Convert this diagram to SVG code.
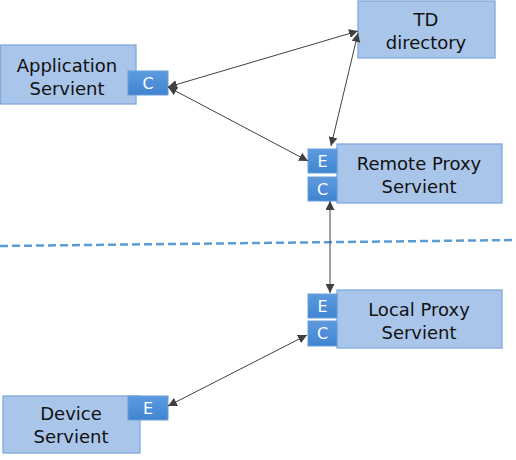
<svg xmlns="http://www.w3.org/2000/svg" width="516" height="460" viewBox="0 0 516 460">
<style>
.node{fill:#a9c5ea;stroke:#7eaadd;stroke-width:1.3}
.port{fill:url(#pg);stroke:#6a9fd8;stroke-width:1}
.lbl{font-family:"DejaVu Sans",Verdana,sans-serif;font-size:18px;fill:#111;text-anchor:middle}
.plbl{font-family:"DejaVu Sans",Verdana,sans-serif;font-size:16px;fill:#fff;text-anchor:middle}
.conn{stroke:#404040;stroke-width:1;fill:none;marker-start:url(#ah);marker-end:url(#ah)}
</style>
<defs>
<linearGradient id="pg" x1="0" y1="0" x2="0" y2="1">
<stop offset="0" stop-color="#5d9be0"/>
<stop offset="1" stop-color="#3f84d0"/>
</linearGradient>
<marker id="ah" viewBox="0 0 10 10" refX="10" refY="5" markerWidth="9" markerHeight="9" markerUnits="userSpaceOnUse" orient="auto-start-reverse">
<path d="M0,0 L10,5 L0,10 z" fill="#404040"/>
</marker>
</defs>
<line x1="0" y1="246" x2="516" y2="240" stroke="#5b9bd5" stroke-width="2.5" stroke-dasharray="8,4"/>
<g id="td-directory">
<rect class="node" x="358" y="1" width="137" height="57"/>
<text class="lbl" x="426" y="26">TD</text>
<text class="lbl" x="426" y="49">directory</text>
</g>
<g id="application-servient">
<rect class="node" x="0.5" y="45" width="135.5" height="59"/>
<text class="lbl" x="67" y="72">Application</text>
<text class="lbl" x="67" y="95">Servient</text>
<rect class="port" x="128" y="71" width="40" height="24"/>
<text class="plbl" x="148" y="89">C</text>
</g>
<g id="remote-proxy-servient">
<rect class="node" x="337" y="144" width="165" height="59"/>
<text class="lbl" x="419" y="170">Remote Proxy</text>
<text class="lbl" x="419" y="193">Servient</text>
<rect class="port" x="308" y="149" width="29" height="24"/>
<text class="plbl" x="322.5" y="167">E</text>
<rect class="port" x="308" y="177" width="29" height="24"/>
<text class="plbl" x="322.5" y="195">C</text>
</g>
<g id="local-proxy-servient">
<rect class="node" x="337" y="290" width="165" height="58"/>
<text class="lbl" x="419" y="316">Local Proxy</text>
<text class="lbl" x="419" y="339">Servient</text>
<rect class="port" x="308" y="294" width="29" height="24"/>
<text class="plbl" x="322.5" y="312">E</text>
<rect class="port" x="308" y="321" width="29" height="25"/>
<text class="plbl" x="322.5" y="339">C</text>
</g>
<g id="device-servient">
<rect class="node" x="3" y="396" width="137" height="57"/>
<text class="lbl" x="71" y="420">Device</text>
<text class="lbl" x="71" y="443">Servient</text>
<rect class="port" x="128" y="396" width="40" height="24"/>
<text class="plbl" x="148" y="414">E</text>
</g>
<g id="connectors">
<line class="conn" x1="168" y1="87" x2="358" y2="31"/>
<line class="conn" x1="168" y1="87" x2="308" y2="161"/>
<line class="conn" x1="358" y1="33" x2="331" y2="146"/>
<line class="conn" x1="330" y1="201" x2="330" y2="293"/>
<line class="conn" x1="168" y1="406" x2="307" y2="335"/>
</g>
</svg>
